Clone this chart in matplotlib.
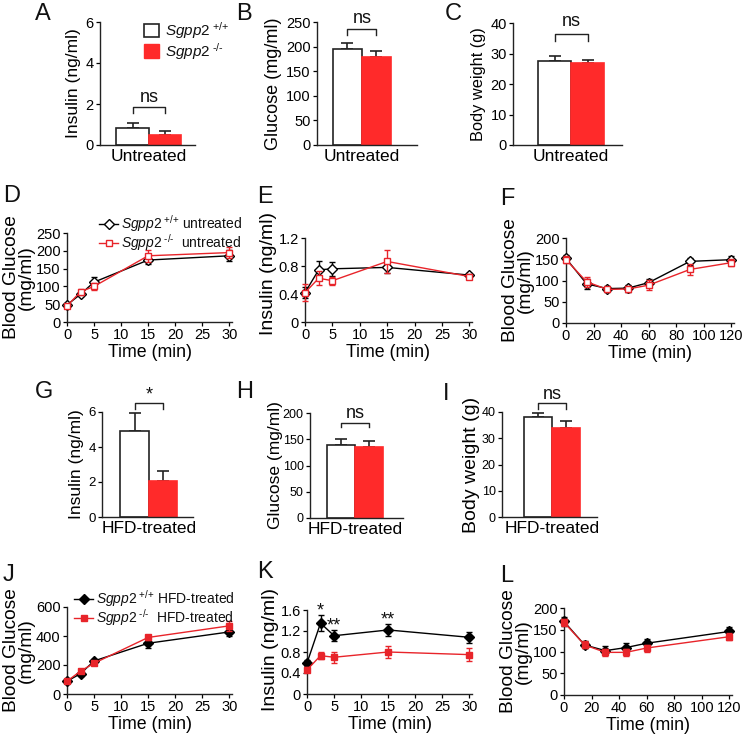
import matplotlib
matplotlib.use('Agg')
import matplotlib.pyplot as plt
from matplotlib.lines import Line2D
from matplotlib.patches import Patch

W, H = 745, 739
RED = '#ff2a2a'
LRED = '#e8242a'

plt.rcParams['font.family'] = ['Liberation Sans', 'DejaVu Sans']
plt.rcParams['mathtext.fontset'] = 'custom'
plt.rcParams['mathtext.rm'] = 'Liberation Sans'
plt.rcParams['mathtext.it'] = 'Liberation Sans:italic'
plt.rcParams['axes.linewidth'] = 1.0
plt.rcParams['axes.edgecolor'] = '#222222'
plt.rcParams['text.color'] = '#111111'

# ---- bar data: [Sgpp2 +/+, Sgpp2 -/-] ----
untreated_insulin = [0.85, 0.50]
untreated_insulin_err = [0.20, 0.20]
untreated_glucose = [195, 179]
untreated_glucose_err = [13, 12]
untreated_weight = [27.5, 27.0]
untreated_weight_err = [1.7, 1.0]
hfd_insulin = [4.9, 2.05]
hfd_insulin_err = [1.05, 0.6]
hfd_glucose = [139, 135]
hfd_glucose_err = [12, 11]
hfd_weight = [38.2, 34.0]
hfd_weight_err = [1.5, 2.5]

# ---- time courses ----
gtt_time = [0, 2.5, 5, 15, 30]
gtt_wt_untreated = [48, 78, 112, 174, 186]
gtt_wt_untreated_err = [5, 6, 15, 12, 15]
gtt_ko_untreated = [45, 85, 100, 186, 195]
gtt_ko_untreated_err = [6, 8, 10, 17, 15]
ins_wt_untreated = [0.42, 0.745, 0.76, 0.78, 0.67]
ins_wt_untreated_err = [0.08, 0.12, 0.10, 0.08, 0.03]
ins_ko_untreated = [0.42, 0.625, 0.59, 0.865, 0.65]
ins_ko_untreated_err = [0.12, 0.10, 0.06, 0.17, 0.04]
itt_time = [0, 15, 30, 45, 60, 90, 120]
itt_wt_untreated = [152, 92, 81, 82, 95, 145, 149]
itt_wt_untreated_err = [8, 12, 5, 8, 8, 8, 8]
itt_ko_untreated = [149, 97, 79, 80, 89, 126, 142]
itt_ko_untreated_err = [8, 12, 5, 8, 12, 12, 8]

gtt_wt_hfd = [88, 140, 228, 350, 428]
gtt_wt_hfd_err = [10, 15, 15, 30, 25]
gtt_ko_hfd = [88, 158, 212, 390, 470]
gtt_ko_hfd_err = [10, 12, 15, 15, 35]
ins_wt_hfd = [0.59, 1.35, 1.11, 1.22, 1.08]
ins_wt_hfd_err = [0.05, 0.15, 0.10, 0.12, 0.10]
ins_ko_hfd = [0.46, 0.73, 0.70, 0.80, 0.75]
ins_ko_hfd_err = [0.05, 0.07, 0.10, 0.12, 0.12]
itt_time_hfd = [0, 15, 30, 45, 60, 120]
itt_wt_hfd = [169, 115, 102, 109, 119, 146]
itt_wt_hfd_err = [10, 8, 10, 10, 10, 10]
itt_ko_hfd = [167, 115, 98, 98, 108, 134]
itt_ko_hfd_err = [8, 8, 8, 8, 8, 8]

WT_LABEL = '$\\mathit{Sgpp2}^{\\ {+}/{+}}$'
KO_LABEL = '$\\mathit{Sgpp2}^{\\ \u2010/\u2010}$'

fig = plt.figure(figsize=(W / 100, H / 100), dpi=100)


def add_ax(x0, y0, x1, y1, tick_fs=10.5):
    """Axes from pixel box (left, top, right, bottom)."""
    ax = fig.add_axes([x0 / W, 1 - y1 / H, (x1 - x0) / W, (y1 - y0) / H])
    ax.spines['top'].set_visible(False)
    ax.spines['right'].set_visible(False)
    ax.tick_params(direction='out', length=3, width=0.9, labelsize=tick_fs, pad=1.5)
    return ax


def bar_panel(box, vals, errs, xlim, ylim, yticks, ylabel, xlabel,
              tick_fs=10.5, label_fs=12.5, labelpad=3, xlabel_fs=12.5):
    ax = add_ax(*box, tick_fs=tick_fs)
    ax.bar([0, 1], vals, width=1.0, color=['white', RED],
           edgecolor=['#222222', RED], linewidth=1.2, zorder=2)
    ax.errorbar([0, 1], vals, yerr=[[0, 0], errs], fmt='none',
                ecolor='#222222', elinewidth=1.2, capsize=4, capthick=1.2, zorder=1)
    ax.set_xlim(*xlim)
    ax.set_ylim(*ylim)
    ax.set_yticks(yticks)
    ax.set_xticks([0.5])
    ax.set_xticklabels([xlabel], fontsize=xlabel_fs)
    ax.tick_params(axis='x', length=0, pad=3)
    ax.set_ylabel(ylabel, fontsize=label_fs, labelpad=labelpad)
    return ax


def bracket(ax, top, low, text, ty, fs=13):
    ax.plot([0, 0, 1, 1], [low, top, top, low], color='#222222', lw=1.0, clip_on=False)
    ax.text(0.5, ty, text, ha='center', va='center', fontsize=fs, clip_on=False)


def line_panel(box, t, wt, wt_err, ko, ko_err, xlim, ylim, xticks, yticks, ylabel,
               filled, label_fs=13.8, label_y=0.5):
    ax = add_ax(*box)
    wt_face = 'black' if filled else 'white'
    ko_face = LRED if filled else 'white'
    ax.errorbar(t, wt, yerr=wt_err, color='black', lw=1.0, marker='D', ms=5,
                mfc=wt_face, mec='black', mew=1.0, capsize=2, elinewidth=1.0,
                clip_on=False, zorder=3)
    ax.errorbar(t, ko, yerr=ko_err, color=LRED, lw=1.0, marker='s', ms=5,
                mfc=ko_face, mec=LRED, mew=1.0, capsize=2, elinewidth=1.0,
                clip_on=False, zorder=4)
    ax.set_xlim(*xlim)
    ax.set_ylim(*ylim)
    ax.set_xticks(xticks)
    ax.set_yticks(yticks)
    ax.set_xlabel('Time (min)', fontsize=12.8, labelpad=1)
    ax.set_ylabel(ylabel, fontsize=label_fs, labelpad=1, linespacing=0.82, y=label_y)
    return ax


def line_legend(ax, labels, filled, x, y):
    wt_face = 'black' if filled else 'white'
    ko_face = LRED if filled else 'white'
    handles = [Line2D([], [], color='black', marker='D', ms=5, mfc=wt_face, lw=1.0),
               Line2D([], [], color=LRED, marker='s', ms=5, mfc=ko_face, mec=LRED, lw=1.0)]
    ax.legend(handles, labels, loc='upper left', bbox_to_anchor=(x / W, 1 - y / H),
              bbox_transform=fig.transFigure, frameon=False, fontsize=10,
              handlelength=1.4, handletextpad=0.2, labelspacing=-0.12,
              borderpad=0, borderaxespad=0)


# ---- row 1: untreated bars ----
axA = bar_panel((100, 22, 195, 145), untreated_insulin, untreated_insulin_err,
                (-1.0, 1.92), (0, 6), [0, 2, 4, 6], 'Insulin (ng/ml)', 'Untreated')
bracket(axA, 1.86, 1.54, 'ns', 2.3)
axA.legend([Patch(fc='white', ec='#222222', lw=1.2), Patch(fc=RED, ec=RED)],
           [WT_LABEL, KO_LABEL], loc='upper left', bbox_to_anchor=(144 / W, 1 - 20 / H),
           bbox_transform=fig.transFigure, frameon=False, fontsize=11,
           handlelength=1.0, handleheight=1.0, handletextpad=0.4, labelspacing=0.0,
           borderpad=0, borderaxespad=0)

axB = bar_panel((317, 22, 417, 145), untreated_glucose, untreated_glucose_err,
                (-1.05, 2.4), (0, 250), [0, 50, 100, 150, 200, 250], 'Glucose (mg/ml)', 'Untreated',
                label_fs=13)
bracket(axB, 236, 223, 'ns', 258)

axC = bar_panel((513, 23, 622, 145), untreated_weight, untreated_weight_err,
                (-1.26, 2.04), (0, 40), [0, 10, 20, 30, 40], 'Body weight (g)', 'Untreated',
                label_fs=11.8)
bracket(axC, 36.4, 34.0, 'ns', 40.5)

# ---- row 2: untreated time courses ----
axD = line_panel((67, 233, 232, 322), gtt_time, gtt_wt_untreated, gtt_wt_untreated_err,
                 gtt_ko_untreated, gtt_ko_untreated_err, (0, 30.5), (0, 250),
                 [0, 5, 10, 15, 20, 25, 30], [0, 50, 100, 150, 200, 250],
                 'Blood Glucose\n(mg/ml)', False)
line_legend(axD, [WT_LABEL + ' untreated', KO_LABEL + '  untreated'], False, 99, 213)

axE = line_panel((305, 238, 472, 322), gtt_time, ins_wt_untreated, ins_wt_untreated_err,
                 ins_ko_untreated, ins_ko_untreated_err, (0, 30.5), (0, 1.2),
                 [0, 5, 10, 15, 20, 25, 30], [0, 0.4, 0.8, 1.2], 'Insulin (ng/ml)', False,
                 label_fs=14, label_y=0.58)
axE.set_yticklabels(['0', '0.4', '0.8', '1.2'])

axF = line_panel((566, 238, 734, 323), itt_time, itt_wt_untreated, itt_wt_untreated_err,
                 itt_ko_untreated, itt_ko_untreated_err, (0, 122), (0, 200),
                 [0, 20, 40, 60, 80, 100, 120], [0, 50, 100, 150, 200],
                 'Blood Glucose\n(mg/ml)', False)

# ---- row 3: HFD bars ----
axG = bar_panel((102, 412, 193, 517), hfd_insulin, hfd_insulin_err,
                (-1.14, 2.05), (0, 6), [0, 2, 4, 6], 'Insulin (ng/ml)', 'HFD-treated',
                tick_fs=9.5)
bracket(axG, 6.5, 6.2, '*', 6.95)

axH = bar_panel((310, 413, 403, 518), hfd_glucose, hfd_glucose_err,
                (-1.1, 2.2), (0, 200), [0, 50, 100, 150, 200], 'Glucose (mg/ml)', 'HFD-treated',
                tick_fs=9, label_fs=12.5, labelpad=0)
bracket(axH, 181, 173, 'ns', 200)

axI = bar_panel((502, 412, 597, 517), hfd_weight, hfd_weight_err,
                (-1.29, 2.1), (0, 40), [0, 10, 20, 30, 40], 'Body weight (g)', 'HFD-treated',
                tick_fs=9, label_fs=14, labelpad=1)
bracket(axI, 43.4, 41.3, 'ns', 46.5)

# ---- row 4: HFD time courses ----
axJ = line_panel((67, 607, 232, 694), gtt_time, gtt_wt_hfd, gtt_wt_hfd_err,
                 gtt_ko_hfd, gtt_ko_hfd_err, (0, 30.5), (0, 600),
                 [0, 5, 10, 15, 20, 25, 30], [0, 200, 400, 600],
                 'Blood Glucose\n(mg/ml)', True)
line_legend(axJ, [WT_LABEL + ' HFD-treated', KO_LABEL + '  HFD-treated'], True, 74, 588)

axK = line_panel((307, 610, 472, 694), gtt_time, ins_wt_hfd, ins_wt_hfd_err,
                 ins_ko_hfd, ins_ko_hfd_err, (0, 30.5), (0, 1.6),
                 [0, 5, 10, 15, 20, 25, 30], [0, 0.4, 0.8, 1.2, 1.6], 'Insulin (ng/ml)', True,
                 label_fs=14, label_y=0.53)
axK.set_yticklabels(['0', '0.4', '0.8', '1.2', '1.6'])
for x, y, s in [(2.5, 1.58, '*'), (5, 1.29, '**'), (15, 1.41, '**')]:
    axK.text(x, y, s, ha='center', va='center', fontsize=13, clip_on=False)

axL = line_panel((564, 608, 732, 695), itt_time_hfd, itt_wt_hfd, itt_wt_hfd_err,
                 itt_ko_hfd, itt_ko_hfd_err, (0, 122), (0, 200),
                 [0, 20, 40, 60, 80, 100, 120], [0, 50, 100, 150, 200],
                 'Blood Glucose\n(mg/ml)', True)

# ---- panel letters ----
letters = [('A', 35, 14), ('B', 236, 14), ('C', 445, 14),
           ('D', 3, 196), ('E', 257, 197), ('F', 500, 199),
           ('G', 35, 392), ('H', 236, 392), ('I', 443, 394),
           ('J', 3, 575), ('K', 257, 572), ('L', 500, 576)]
for s, x, y in letters:
    fig.text(x / W, 1 - y / H, s, fontsize=17, ha='left', va='center')

fig.savefig('out.png', dpi=100)
